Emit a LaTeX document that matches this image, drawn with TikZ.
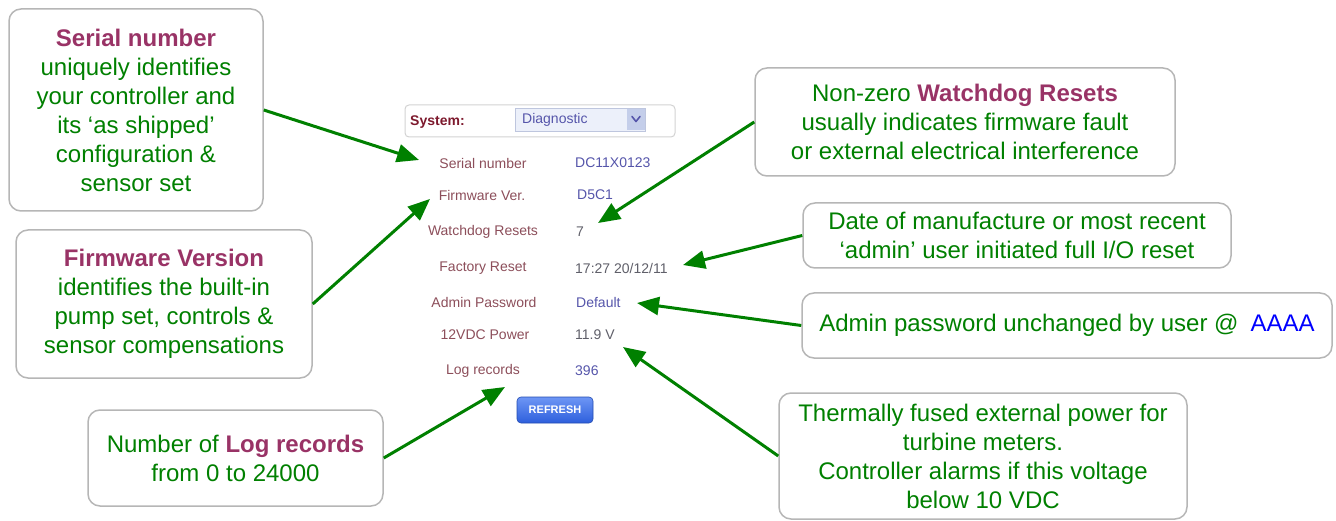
\documentclass[tikz,border=0pt]{standalone}
\usepackage{fontspec}
\setmainfont{Liberation Sans}
\usetikzlibrary{arrows.meta}
\definecolor{notegreen}{RGB}{0,128,0}
\definecolor{plum}{RGB}{153,51,102}
\definecolor{pwblue}{RGB}{0,0,255}
\definecolor{boxgray}{RGB}{182,182,182}
\definecolor{lbl}{RGB}{140,78,90}
\definecolor{valblue}{RGB}{85,85,170}
\definecolor{valgray}{RGB}{95,95,105}
\definecolor{sysred}{RGB}{125,25,45}
\definecolor{ddfill}{RGB}{236,240,250}
\definecolor{ddedge}{RGB}{190,198,222}
\definecolor{ddbtn}{RGB}{196,206,234}
\definecolor{btntop}{RGB}{110,150,245}
\definecolor{btnbot}{RGB}{45,95,220}
\begin{document}
\begin{tikzpicture}[x=1pt,y=-1pt,
  note/.style={draw=boxgray, line width=1.5pt, rounded corners=12pt, fill=white,
    align=center, text=notegreen, font=\fontsize{24}{29}\selectfont, inner sep=0pt},
  callout/.style={draw=notegreen, line width=3pt, -{Triangle[length=22pt,width=18pt]}},
  rowlabel/.style={text=lbl, font=\fontsize{14}{16}\selectfont, anchor=center, inner sep=0pt},
  rowvalue/.style={font=\fontsize{14}{16}\selectfont, anchor=west, inner sep=0pt},
  hl/.style={text=plum, font=\bfseries}]
\useasboundingbox (0,0) rectangle (1336,521);

% ---- diagnostic panel ----
\node[draw=gray!35, line width=1pt, rounded corners=4pt, minimum width=270pt, minimum height=32pt, inner sep=0pt] (sysbox) at (540,121) {};
\node[anchor=west, inner sep=0pt, text=sysred, font=\fontsize{14}{16}\selectfont\bfseries] (syslabel) at (410,122) {System:};
\node[draw=ddedge, fill=ddfill, line width=0.8pt, minimum width=130pt, minimum height=23pt, inner sep=0pt] (dropdown) at (580,119.5) {};
\node[fill=ddbtn, minimum width=18pt, minimum height=21pt, inner sep=0pt] (ddbutton) at (636,119.5) {};
\draw[valblue, line width=1.6pt, line cap=round, line join=round] (632,116.5) -- (636,121.5) -- (640,116.5);
\node[anchor=west, inner sep=0pt, text=valblue, font=\fontsize{14}{16}\selectfont] (ddtext) at (522,120) {Diagnostic};

\node[rowlabel] (lserial)   at (483,163) {Serial number};
\node[rowlabel] (lfirmware) at (482,195) {Firmware Ver.};
\node[rowlabel] (lwatchdog) at (483,232) {Watchdog Resets};
\node[rowlabel] (lfactory)  at (483,268) {Factory Reset};
\node[rowlabel] (ladmin)    at (484,302) {Admin Password};
\node[rowlabel] (lpower)    at (485,335) {12VDC Power};
\node[rowlabel] (llog)      at (483,371) {Log records};

\node[rowvalue, text=valblue] (vserial)   at (575,163) {DC11X0123};
\node[rowvalue, text=valblue] (vfirmware) at (577,195) {D5C1};
\node[rowvalue, text=valgray] (vwatchdog) at (576,232) {7};
\node[rowvalue, text=valgray] (vfactory)  at (575,268) {17:27 20/12/11};
\node[rowvalue, text=valblue] (vadmin)    at (576,302) {Default};
\node[rowvalue, text=valgray] (vpower)    at (575,335) {11.9 V};
\node[rowvalue, text=valblue] (vlog)      at (575,371) {396};

\node[rounded corners=4pt, top color=btntop, bottom color=btnbot, draw=btnbot!80!black, line width=0.6pt,
  minimum width=76pt, minimum height=26pt, inner sep=0pt, text=white,
  font=\fontsize{11}{13}\selectfont\bfseries] (refresh) at (555,410) {REFRESH};

% ---- explanatory notes ----
\node[note, minimum width=254pt, minimum height=202pt] (serialnote) at (136,110)
  {\textcolor{plum}{\textbf{Serial number}}\\uniquely identifies\\your controller and\\its ‘as shipped’\\configuration \&\\sensor set};
\node[note, minimum width=296pt, minimum height=148pt] (firmnote) at (164,304)
  {\textcolor{plum}{\textbf{Firmware Version}}\\identifies the built-in\\pump set, controls \&\\sensor compensations};
\node[note, minimum width=295pt, minimum height=96pt] (lognote) at (235.5,458)
  {Number of \textcolor{plum}{\textbf{Log records}}\\from 0 to 24000};
\node[note, minimum width=420pt, minimum height=108pt] (wdnote) at (965,122)
  {Non-zero \textcolor{plum}{\textbf{Watchdog Resets}}\\usually indicates firmware fault\\or external electrical interference};
\node[note, minimum width=428pt, minimum height=65pt] (datenote) at (1017,235.5)
  {Date of manufacture or most recent\\‘admin’ user initiated full I/O reset};
\node[note, minimum width=530pt, minimum height=65pt] (adminnote) at (1067,325.5)
  {Admin password unchanged by user @\hspace{12pt}\textcolor{pwblue}{AAAA}};
\node[note, minimum width=408pt, minimum height=126pt] (powernote) at (983,456)
  {Thermally fused external power for\\turbine meters.\\Controller alarms if this voltage\\below 10 VDC};

% ---- arrow tips next to the panel rows ----
\coordinate (tserial)   at (419,160);
\coordinate (tfirmware) at (430,199);
\coordinate (tlog)      at (505,387);
\coordinate (twatchdog) at (598,223);
\coordinate (tdate)     at (683,265);
\coordinate (tadmin)    at (637,303);
\coordinate (tpower)    at (623,347);

\draw[callout] (serialnote.east) -- (tserial);
\draw[callout] (firmnote.east) -- (tfirmware);
\draw[callout] (lognote.east) -- (tlog);
\draw[callout] (wdnote.west) -- (twatchdog);
\draw[callout] (datenote.west) -- (tdate);
\draw[callout] (adminnote.west) -- (tadmin);
\draw[callout] (powernote.west) -- (tpower);
\end{tikzpicture}
\end{document}
